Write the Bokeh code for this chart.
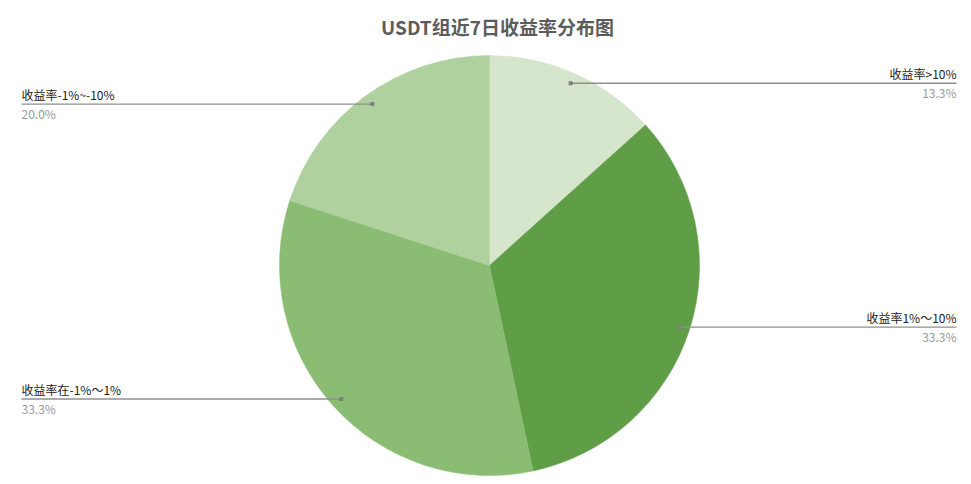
import math
from bokeh.plotting import figure
from bokeh.models import Range1d, ColumnDataSource
from bokeh.core.properties import value
from bokeh.embed import file_html
from bokeh.resources import INLINE

title = "USDT组近7日收益率分布图"
categories = ["收益率>10%", "收益率1%～10%", "收益率在-1%～1%", "收益率-1%~-10%"]
counts = [2, 5, 5, 3]
colors = ["#d5e6cc", "#5f9e46", "#8abd73", "#afd19e"]

W, H = 963, 476
p = figure(width=W, height=H, output_backend="svg", toolbar_location=None,
           x_range=Range1d(0, W), y_range=Range1d(0, H), min_border=0,
           outline_line_color=None)
p.axis.visible = False
p.grid.visible = False

cx, cy, r = 489, 211, 210
total = sum(counts)
starts, ends, mids, pcts = [], [], [], []
cum = 0
for c in counts:
    a0 = math.pi / 2 - cum / total * 2 * math.pi
    cum += c
    a1 = math.pi / 2 - cum / total * 2 * math.pi
    starts.append(a0)
    ends.append(a1)
    mids.append((a0 + a1) / 2)
    pcts.append("%.1f%%" % (c / total * 100))

src = ColumnDataSource(dict(start=starts, end=ends, color=colors))
p.wedge(x=cx, y=cy, radius=r, start_angle="start", end_angle="end",
        direction="clock", fill_color="color", line_color="color",
        line_width=0.5, source=src)

font = value("Noto Sans CJK SC")
for cat, m, pct in zip(categories, mids, pcts):
    dx = cx + 0.95 * r * math.cos(m)
    dy = cy + 0.95 * r * math.sin(m)
    right = math.cos(m) > 0
    ex = 956 if right else 21
    p.line([dx, ex], [dy, dy], line_color="#8f8f8f", line_width=1.3)
    p.scatter([dx], [dy], size=4, marker="square", fill_color="#7f7f7f", line_color=None)
    align = "right" if right else "left"
    p.text([ex], [dy + 1], text=[cat], text_align=align, text_baseline="bottom",
           text_font=font, text_font_size="12px", text_color="#222222")
    p.text([ex], [dy - 1], text=[pct], text_align=align, text_baseline="top",
           text_font=font, text_font_size="12px", text_color="#999999")

p.text([497], [450], text=[title], text_align="center", text_baseline="middle",
       text_font=font, text_font_size="19px", text_font_style="bold",
       text_color="#5c5c5c")

open("out.html", "w").write(file_html(p, INLINE))
